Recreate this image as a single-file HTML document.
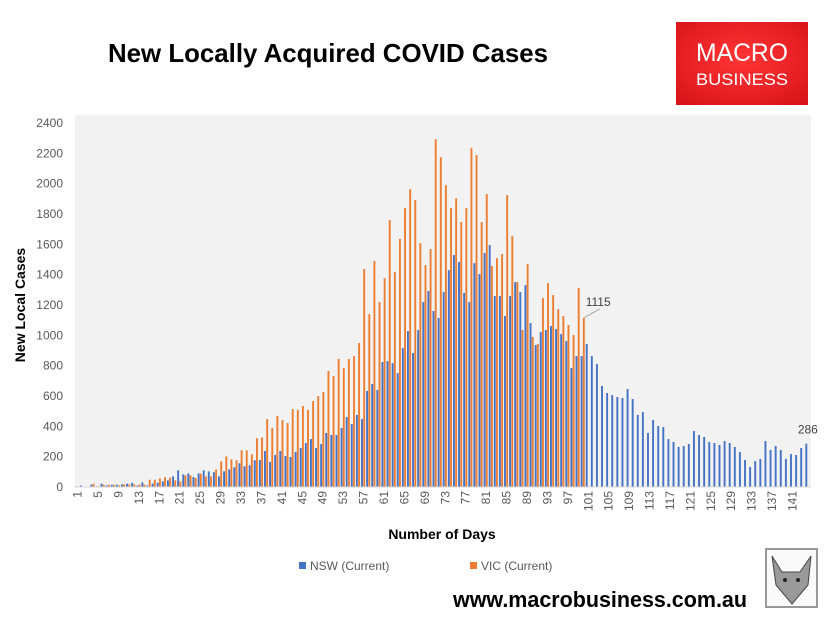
<!DOCTYPE html>
<html><head><meta charset="utf-8"><style>
html,body{margin:0;padding:0;background:#fff;width:829px;height:624px;overflow:hidden}
svg{display:block;font-family:"Liberation Sans",sans-serif}
</style></head><body>
<svg id="chart" width="829" height="624" viewBox="0 0 829 624">
<text x="108" y="62" font-size="26" font-weight="bold" textLength="440" lengthAdjust="spacingAndGlyphs" fill="#000">New Locally Acquired COVID Cases</text>
<g>
<defs><radialGradient id="lg" cx="50%" cy="45%" r="70%"><stop offset="0" stop-color="#ff3535"/><stop offset="1" stop-color="#d8141a"/></radialGradient></defs>
<rect x="676" y="22" width="132" height="83" fill="url(#lg)"/>
<text x="742" y="61" font-size="25" fill="#fff" text-anchor="middle" textLength="92" lengthAdjust="spacingAndGlyphs">MACRO</text>
<text x="742" y="85" font-size="17" fill="#fff" text-anchor="middle" textLength="92" lengthAdjust="spacingAndGlyphs">BUSINESS</text>
</g>
<rect x="75" y="115" width="736" height="372" fill="#f2f2f2"/>
<g id="yaxis"></g><g id="xaxis"></g><g id="bars"></g>
<line x1="75" y1="487" x2="811" y2="487" stroke="#d9d9d9" stroke-width="1"/>
<text transform="translate(25,305) rotate(-90)" font-size="14" font-weight="bold" text-anchor="middle">New Local Cases</text>
<text x="442" y="539" font-size="14" font-weight="bold" text-anchor="middle">Number of Days</text>
<g><rect x="299" y="562" width="7" height="7" fill="#4472c4"/><text x="310" y="570" font-size="12" fill="#595959">NSW (Current)</text></g>
<g><rect x="470" y="562" width="7" height="7" fill="#ed7d31"/><text x="481" y="570" font-size="12" fill="#595959">VIC (Current)</text></g>
<text x="453" y="607" font-size="22" font-weight="bold" textLength="294" lengthAdjust="spacingAndGlyphs">www.macrobusiness.com.au</text>
<g>
<rect x="766" y="549" width="51" height="58" fill="#fafafa" stroke="#999" stroke-width="2"/>
<path d="M772 556 L782 572 L800 572 L811 556 L808 585 L792 604 L776 585 Z" fill="#9a9a9a" stroke="#444" stroke-width="1"/>
<circle cx="785" cy="580" r="2" fill="#222"/><circle cx="798" cy="580" r="2" fill="#222"/>
</g>
</svg>
<script>
const nswValues=[5,9,3,15,5,22,10,15,15,17,22,28,9,31,10,22,28,37,44,70,110,83,90,66,90,110,103,97,70,103,116,130,156,136,143,176,178,237,165,211,237,204,198,231,257,290,316,257,283,356,343,343,389,461,415,475,448,633,679,639,824,830,817,751,916,1028,883,1035,1219,1292,1160,1114,1285,1430,1529,1483,1279,1219,1476,1404,1542,1595,1259,1259,1127,1259,1351,1285,1331,1081,936,1022,1035,1061,1041,1008,962,784,863,863,943,863,811,666,620,606,593,587,646,580,475,494,356,442,402,395,316,297,264,270,283,369,343,330,297,290,277,303,290,264,231,178,132,171,185,303,244,270,244,185,217,211,257,286];
const vicValues=[0,0,0,22,5,15,15,15,10,17,17,17,17,15,48,48,57,64,62,44,37,77,77,59,88,70,70,116,169,202,182,176,242,242,215,321,327,448,389,468,442,422,514,508,534,508,567,600,626,765,732,844,784,844,863,949,1437,1140,1490,1219,1377,1760,1417,1635,1839,1964,1892,1608,1463,1569,2294,2175,1990,1839,1903,1747,1839,2234,2188,1747,1931,1457,1509,1536,1925,1654,1351,1035,1470,989,943,1246,1345,1265,1173,1127,1068,1002,1312,1115];
const yTicks=[0,200,400,600,800,1000,1200,1400,1600,1800,2000,2200,2400];
const nDays=144;
const NS='http://www.w3.org/2000/svg';
const X0=75,CW=5.107,Y0=487,YS=364/2400;
const xC=d=>X0+(d-0.5)*CW;
const yV=v=>Y0-v*YS;
function mk(tag,attrs,parent){const e=document.createElementNS(NS,tag);for(const k in attrs)e.setAttribute(k,attrs[k]);parent.appendChild(e);return e;}
const ya=document.getElementById('yaxis'),xa=document.getElementById('xaxis'),bg=document.getElementById('bars');
yTicks.forEach(t=>{const e=mk('text',{x:63,y:yV(t)+4,'font-size':12,fill:'#595959','text-anchor':'end'},ya);e.textContent=t;

});
for(let d=1;d<=nDays;d+=4){const e=mk('text',{transform:`translate(${xC(d)+4},491) rotate(-90)`,'font-size':12,fill:'#595959','text-anchor':'end'},xa);e.textContent=d;

}
nswValues.forEach((v,i)=>{const c=xC(i+1);const r=mk('rect',{x:c-2.5,y:yV(v),width:1.9,height:v*YS,fill:'#4472c4'},bg);

});
vicValues.forEach((v,i)=>{const c=xC(i+1);const r=mk('rect',{x:c-0.3,y:yV(v),width:1.9,height:v*YS,fill:'#ed7d31'},bg);

});
const lv=vicValues.length,lx=xC(lv)+0.6,ly=yV(vicValues[lv-1]);
const ll=mk('line',{x1:lx,y1:ly,x2:lx+16,y2:ly-9,stroke:'#a6a6a6','stroke-width':1},bg);


const l1=mk('text',{x:lx+2,y:ly-12,'font-size':12,fill:'#404040'},bg);l1.textContent=vicValues[lv-1];


const ln=nswValues.length;
const l2=mk('text',{x:xC(ln)+10,y:yV(nswValues[ln-1])-10,'font-size':12,fill:'#404040','text-anchor':'end'},bg);l2.textContent=nswValues[ln-1];


</script>
</body></html>
